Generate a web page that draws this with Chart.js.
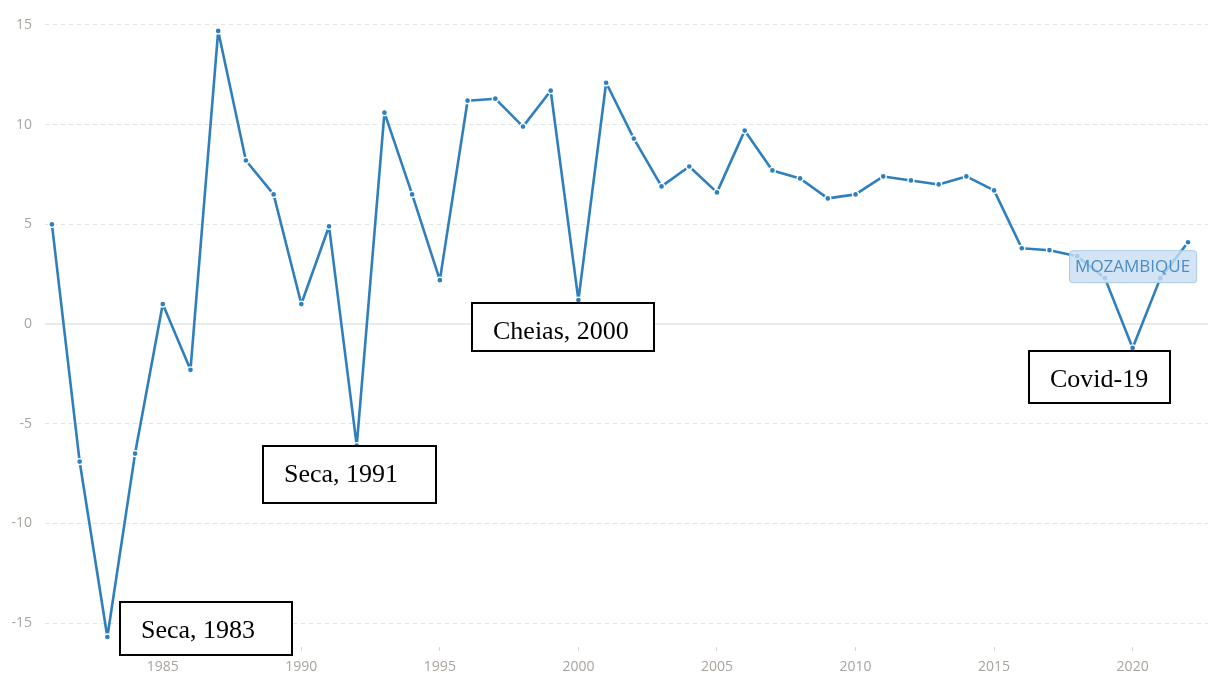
<!DOCTYPE html>
<html>
<head>
<meta charset="utf-8">
<script src="https://cdn.jsdelivr.net/npm/chart.js@4/dist/chart.umd.min.js"></script>
<style>
  html, body { margin: 0; padding: 0; background: #ffffff; }
  #wrap { width: 1208px; height: 673px; position: relative; }
</style>
</head>
<body>
<div id="wrap"><canvas id="c" width="1208" height="673"></canvas></div>
<script>
// ---- data ----
const years = [1981, 1982, 1983, 1984, 1985, 1986, 1987, 1988, 1989, 1990,
               1991, 1992, 1993, 1994, 1995, 1996, 1997, 1998, 1999, 2000,
               2001, 2002, 2003, 2004, 2005, 2006, 2007, 2008, 2009, 2010,
               2011, 2012, 2013, 2014, 2015, 2016, 2017, 2018, 2019, 2020,
               2021, 2022];
const growth = [5.0, -6.9, -15.7, -6.5, 1.0, -2.3, 14.7, 8.2, 6.5, 1.0,
                4.9, -6.1, 10.6, 6.5, 2.2, 11.2, 11.3, 9.9, 11.7, 1.2,
                12.1, 9.3, 6.9, 7.9, 6.6, 9.7, 7.7, 7.3, 6.3, 6.5,
                7.4, 7.2, 7.0, 7.4, 6.7, 3.8, 3.7, 3.4, 2.3, -1.2,
                2.3, 4.1];
const xTickLabels = [1985, 1990, 1995, 2000, 2005, 2010, 2015, 2020];
const yTickLabels = [-15, -10, -5, 0, 5, 10, 15];
const seriesName = 'MOZAMBIQUE';
const noteTexts = ['Seca, 1983', 'Seca, 1991', 'Cheias, 2000', 'Covid-19'];
const noteYears = [1983, 1992, 2000, 2020];

// ---- note box layout (pixel offsets from the anchored data point) ----
const noteLayout = [
  { dx: 13,   dy: -35, w: 172, h: 53 },
  { dx: -94,  dy: 0,   w: 173, h: 57 },
  { dx: -106, dy: 3,   w: 182, h: 48 },
  { dx: -104, dy: 3,   w: 141, h: 52 }
];

const points = years.map((y, i) => ({ x: y, y: growth[i] }));

const overlayPlugin = {
  id: 'overlay',
  beforeDatasetsDraw(chart) {
    const { ctx, chartArea, scales } = chart;
    const y0 = scales.y.getPixelForValue(0);
    ctx.save();
    ctx.strokeStyle = '#e6ecee';
    ctx.lineWidth = 2;
    ctx.beginPath();
    ctx.moveTo(chartArea.left, y0);
    ctx.lineTo(chartArea.right, y0);
    ctx.stroke();
    ctx.restore();
  },
  afterDatasetsDraw(chart) {
    const { ctx, scales } = chart;
    ctx.save();
    // series label
    const lx = scales.x.getPixelForValue(2020);
    const ly = scales.y.getPixelForValue(2.9);
    ctx.font = '17px "Open Sans"';
    const tw = ctx.measureText(seriesName).width;
    const bw = tw + 12, bh = 32;
    const bx = lx - bw / 2, by = ly - bh / 2;
    ctx.fillStyle = 'rgba(200, 223, 242, 0.8)';
    ctx.strokeStyle = '#a8cae6';
    ctx.lineWidth = 1;
    ctx.beginPath();
    ctx.roundRect(bx + 0.5, by + 0.5, bw, bh, 3);
    ctx.fill();
    ctx.stroke();
    ctx.fillStyle = '#4b8cc6';
    ctx.textAlign = 'center';
    ctx.textBaseline = 'middle';
    ctx.fillText(seriesName, lx, ly + 1);

    // note boxes
    ctx.font = '26px "Liberation Serif"';
    ctx.textAlign = 'left';
    ctx.textBaseline = 'alphabetic';
    noteTexts.forEach((t, i) => {
      const idx = years.indexOf(noteYears[i]);
      const px = scales.x.getPixelForValue(years[idx]);
      const py = scales.y.getPixelForValue(growth[idx]);
      const L = noteLayout[i];
      const x = Math.round(px + L.dx), y = Math.round(py + L.dy);
      ctx.fillStyle = '#ffffff';
      ctx.fillRect(x, y, L.w, L.h);
      ctx.strokeStyle = '#000000';
      ctx.lineWidth = 2;
      ctx.strokeRect(x, y, L.w, L.h);
      ctx.fillStyle = '#000000';
      ctx.fillText(t, x + 21, y + 35.5);
    });
    ctx.restore();
  }
};

new Chart(document.getElementById('c'), {
  type: 'line',
  data: {
    datasets: [{
      label: seriesName,
      data: points,
      borderColor: '#2f7fbc',
      borderWidth: 2.6,
      borderJoinStyle: 'round',
      backgroundColor: '#2f7fbc',
      pointRadius: 3,
      pointBorderColor: '#ffffff',
      pointBorderWidth: 1.3,
      pointBackgroundColor: '#2f7fbc',
      tension: 0,
      fill: false
    }]
  },
  options: {
    responsive: false,
    animation: false,
    devicePixelRatio: 1,
    layout: { padding: 0, autoPadding: false },
    plugins: {
      legend: { display: false },
      tooltip: { enabled: false }
    },
    scales: {
      x: {
        type: 'linear',
        min: 1980.75,
        max: 2022.72,
        afterBuildTicks(scale) { scale.ticks = xTickLabels.map(v => ({ value: v })); },
        afterFit(scale) { scale.height = 30; scale.paddingLeft = 0; scale.paddingRight = 0; },
        grid: {
          drawOnChartArea: false, drawTicks: true, tickLength: 8,
          tickColor: '#d6d6d6', tickWidth: 1, tickBorderDash: [0, 4, 4, 30]
        },
        border: { display: false },
        ticks: {
          color: '#a8a39e',
          font: { family: '"Open Sans"', size: 14 },
          padding: 8,
          maxRotation: 0,
          callback: v => String(v)
        }
      },
      y: {
        type: 'linear',
        min: -16,
        max: 16.25,
        afterBuildTicks(scale) { scale.ticks = yTickLabels.map(v => ({ value: v })); },
        afterFit(scale) { scale.width = 45; scale.paddingTop = 0; scale.paddingBottom = 0; },
        grid: {
          drawTicks: false,
          color: ctx => (ctx.tick && ctx.tick.value === 0) ? 'rgba(0,0,0,0)' : '#e3e3e3',
          lineWidth: 1
        },
        border: { display: false, dash: [4, 4] },
        ticks: {
          color: '#a8a39e',
          font: { family: '"Open Sans"', size: 14 },
          padding: 13,
          callback: v => String(v)
        }
      }
    }
  },
  plugins: [overlayPlugin]
});
</script>
</body>
</html>
